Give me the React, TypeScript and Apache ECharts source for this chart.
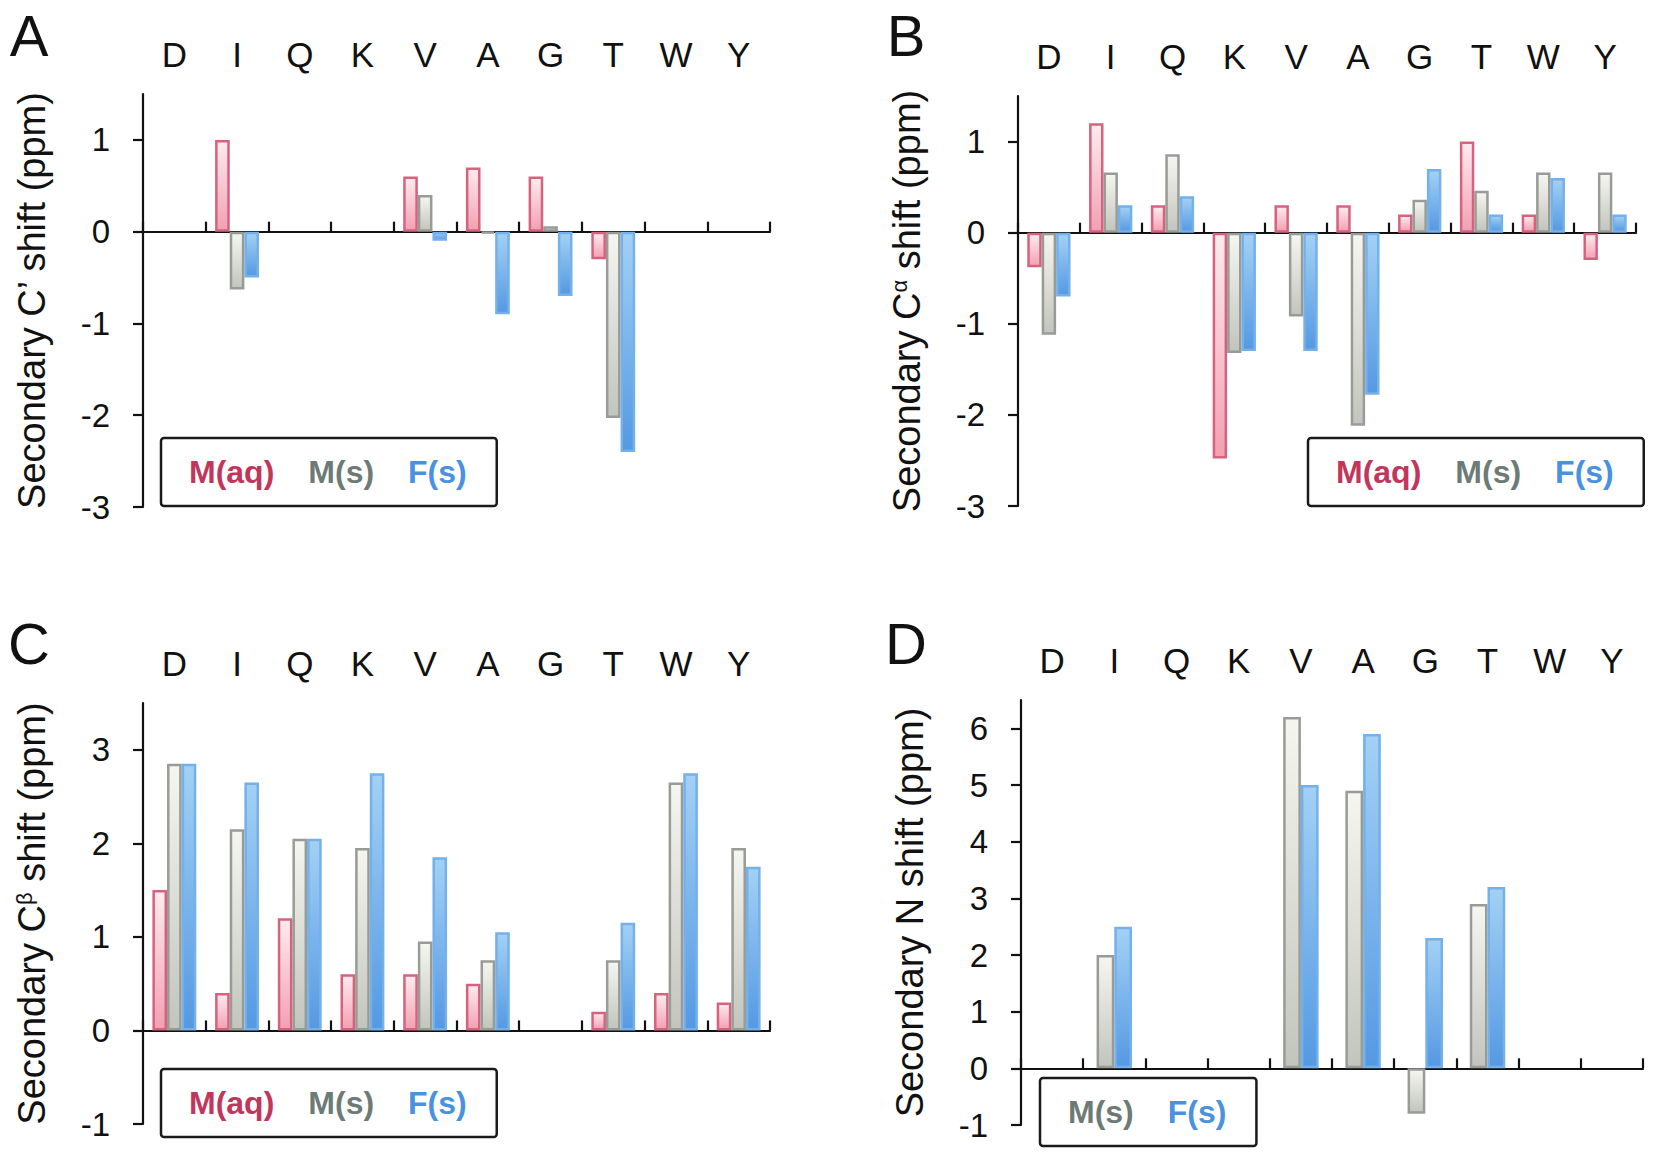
import React, { useEffect, useRef } from "react";
import * as echarts from "echarts";

const residues = ["D", "I", "Q", "K", "V", "A", "G", "T", "W", "Y"];

// Panel A: secondary C' shift (ppm)
const cPrimeMaq = [null, 1.0, null, null, 0.6, 0.7, 0.6, -0.3, null, null];
const cPrimeMs = [null, -0.63, null, null, 0.4, -0.02, 0.06, -2.03, null, null];
const cPrimeFs = [null, -0.5, null, null, -0.1, -0.9, -0.7, -2.4, null, null];

// Panel B: secondary C-alpha shift (ppm)
const cAlphaMaq = [-0.38, 1.2, 0.3, -2.48, 0.3, 0.3, 0.2, 1.0, 0.2, -0.3];
const cAlphaMs = [-1.12, 0.66, 0.86, -1.32, -0.92, -2.12, 0.36, 0.46, 0.66, 0.66];
const cAlphaFs = [-0.7, 0.3, 0.4, -1.3, -1.3, -1.78, 0.7, 0.2, 0.6, 0.2];

// Panel C: secondary C-beta shift (ppm)
const cBetaMaq = [1.5, 0.4, 1.2, 0.6, 0.6, 0.5, null, 0.2, 0.4, 0.3];
const cBetaMs = [2.85, 2.15, 2.05, 1.95, 0.95, 0.75, null, 0.75, 2.65, 1.95];
const cBetaFs = [2.85, 2.65, 2.05, 2.75, 1.85, 1.05, null, 1.15, 2.75, 1.75];

// Panel D: secondary N shift (ppm)
const nMs = [null, 2.0, null, null, 6.2, 4.9, -0.8, 2.9, null, null];
const nFs = [null, 2.5, null, null, 5.0, 5.9, 2.3, 3.2, null, null];

const ticksAB = [-3, -2, -1, 0, 1];
const ticksC = [-1, 0, 1, 2, 3];
const ticksD = [-1, 0, 1, 2, 3, 4, 5, 6];

const FONT = "'Liberation Sans', Arial, Helvetica, sans-serif";

const styles: Record<string, any> = {
  "M(aq)": {
    border: "#d6627e",
    top: "#fdecef",
    bottom: "#f2a0b3",
    text: "#c2365c",
  },
  "M(s)": {
    border: "#979c96",
    top: "#f6f6f0",
    bottom: "#c2c5bd",
    text: "#6d7b77",
  },
  "F(s)": {
    border: "#74b0ea",
    top: "#a3d1f4",
    bottom: "#5599e3",
    text: "#4a92df",
  },
};

function barSeries(name: string, data: (number | null)[], idx: number, gap: string) {
  const s = styles[name];
  return {
    type: "bar",
    name,
    data,
    xAxisIndex: idx * 2,
    yAxisIndex: idx,
    barGap: "0%",
    barCategoryGap: gap,
    itemStyle: {
      color: new echarts.graphic.LinearGradient(0, 0, 0, 1, [
        { offset: 0, color: s.top },
        { offset: 1, color: s.bottom },
      ]),
      borderColor: s.border,
      borderWidth: 2.5,
    },
  };
}

const grids = [
  { left: 143, top: 94, width: 627, height: 413 },
  { left: 1018, top: 96, width: 618, height: 410 },
  { left: 143, top: 703, width: 627, height: 421 },
  { left: 1021, top: 700, width: 622, height: 425 },
];

const yRanges = [
  { min: -3, max: 1.5, ticks: ticksAB },
  { min: -3, max: 1.5, ticks: ticksAB },
  { min: -1, max: 3.5, ticks: ticksC },
  { min: -1, max: 6.5, ticks: ticksD },
];

const yNames = [
  "{t|Secondary C’ shift (ppm)}",
  "{t|Secondary C}{s|α}{t| shift (ppm)}",
  "{t|Secondary C}{s|β}{t| shift (ppm)}",
  "{t|Secondary N shift (ppm)}",
];

function buildOption() {
  const xAxis: any[] = [];
  const yAxis: any[] = [];
  grids.forEach((_, i) => {
    xAxis.push({
      type: "category",
      gridIndex: i,
      data: residues,
      position: "bottom",
      axisLine: { show: true, onZero: true, lineStyle: { color: "#111", width: 2.2 } },
      axisTick: { show: true, inside: true, length: 10, lineStyle: { color: "#111", width: 2.2 } },
      axisLabel: { show: false },
      splitLine: { show: false },
    });
    xAxis.push({
      type: "category",
      gridIndex: i,
      data: residues,
      position: "top",
      axisLine: { show: false, onZero: false },
      axisTick: { show: false },
      axisLabel: { show: true, fontSize: 35, color: "#111", fontFamily: FONT, margin: 22 },
      splitLine: { show: false },
    });
    const r = yRanges[i];
    yAxis.push({
      type: "value",
      gridIndex: i,
      min: r.min,
      max: r.max,
      axisLine: { show: true, onZero: false, lineStyle: { color: "#111", width: 2.2 } },
      axisTick: { show: true, length: 10, customValues: r.ticks, lineStyle: { color: "#111", width: 2.2 } },
      axisLabel: { show: true, customValues: r.ticks, fontSize: 33, color: "#111", fontFamily: FONT, margin: 33 },
      splitLine: { show: false },
      name: yNames[i],
      nameLocation: "middle",
      nameGap: 92,
      nameTextStyle: {
        color: "#111",
        fontFamily: FONT,
        fontSize: 38,
        rich: {
          t: { fontSize: 38, fontFamily: FONT, color: "#111" },
          s: { fontSize: 22, fontFamily: FONT, color: "#111", verticalAlign: "top" },
        },
      },
    });
  });

  const series = [
    barSeries("M(aq)", cPrimeMaq, 0, "30%"),
    barSeries("M(s)", cPrimeMs, 0, "30%"),
    barSeries("F(s)", cPrimeFs, 0, "30%"),
    barSeries("M(aq)", cAlphaMaq, 1, "30%"),
    barSeries("M(s)", cAlphaMs, 1, "30%"),
    barSeries("F(s)", cAlphaFs, 1, "30%"),
    barSeries("M(aq)", cBetaMaq, 2, "30%"),
    barSeries("M(s)", cBetaMs, 2, "30%"),
    barSeries("F(s)", cBetaFs, 2, "30%"),
    barSeries("M(s)", nMs, 3, "43%"),
    barSeries("F(s)", nFs, 3, "43%"),
  ];

  const legendBase = {
    orient: "horizontal",
    icon: "none",
    itemWidth: 0,
    itemHeight: 0,
    itemGap: 29,
    padding: [18, 30, 18, 23],
    borderColor: "#1a1a1a",
    borderWidth: 2.5,
    borderRadius: 3,
    selectedMode: false,
    textStyle: { fontSize: 32, fontWeight: "bold", fontFamily: FONT },
  };
  const item = (n: string) => ({ name: n, textStyle: { color: styles[n].text } });
  const legend = [
    { ...legendBase, left: 161, top: 438, data: [item("M(aq)"), item("M(s)"), item("F(s)")] },
    { ...legendBase, left: 1308, top: 438, data: [item("M(aq)"), item("M(s)"), item("F(s)")] },
    { ...legendBase, left: 161, top: 1069, data: [item("M(aq)"), item("M(s)"), item("F(s)")] },
    { ...legendBase, left: 1040, top: 1078, data: [item("M(s)"), item("F(s)")] },
  ];

  const letter = (t: string, x: number, y: number) => ({
    type: "text",
    x,
    y,
    style: {
      text: t,
      fill: "#111",
      font: `58px ${FONT}`,
      textAlign: "center",
      textVerticalAlign: "middle",
    },
  });

  return {
    animation: false,
    backgroundColor: "#ffffff",
    grid: grids,
    xAxis,
    yAxis,
    series,
    legend,
    graphic: [
      letter("A", 29, 35),
      letter("B", 906, 35),
      letter("C", 29, 643),
      letter("D", 906, 643),
    ],
  };
}

export default function App() {
  const ref = useRef<HTMLDivElement>(null);
  useEffect(() => {
    if (!ref.current) return;
    const chart = echarts.init(ref.current, undefined, { renderer: "svg" });
    chart.setOption(buildOption() as any);
    return () => chart.dispose();
  }, []);
  return (
    <div
      ref={ref}
      style={{ position: "fixed", left: 0, top: 0, width: 1654, height: 1153, background: "#fff" }}
    />
  );
}
